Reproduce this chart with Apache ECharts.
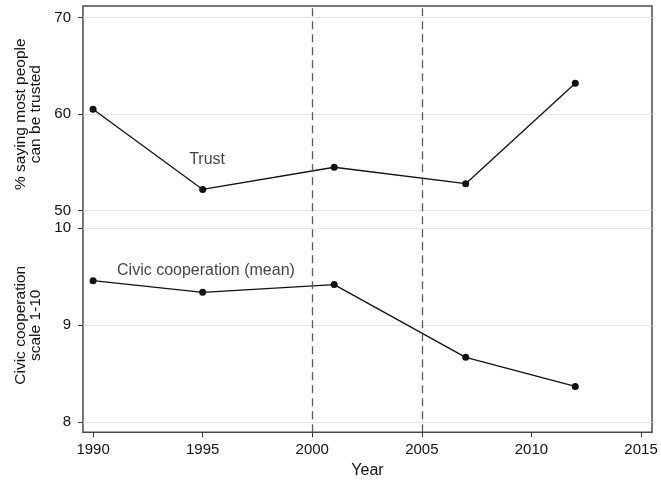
<!DOCTYPE html>
<html>
<head>
<meta charset="utf-8">
<script src="https://cdn.jsdelivr.net/npm/echarts@6/dist/echarts.min.js"></script>
<style>
  html, body { margin: 0; padding: 0; background: #fff; }
  #chart { width: 661px; height: 484px; }
</style>
</head>
<body>
<div id="chart"></div>
<script>
// Survey waves
const years = [1990, 1995, 2001, 2007, 2012];
// % saying most people can be trusted
const trust = [60.5, 52.2, 54.5, 52.8, 63.2];
// Civic cooperation scale 1-10 (mean)
const civic = [9.46, 9.34, 9.42, 8.67, 8.37];

// Axis ticks
const yearTicks = [1990, 1995, 2000, 2005, 2010, 2015];
const trustTicks = [50, 60, 70];
const civicTicks = [8, 9, 10];

// Vertical reference years (dashed)
const periodMarks = [2000, 2005];

// In-plot series captions [year, value]
const trustCaption = { text: 'Trust', at: [1995.2, 55.3] };
const civicCaption = { text: 'Civic cooperation (mean)', at: [1995.15, 9.565] };

// Shared horizontal range (slightly padded around the tick range)
const xMin = 1989.54, xMax = 2015.5;

const FONT = 'Liberation Sans, Arial, Helvetica, sans-serif';
const INK = '#111';
const TEXT = '#111';
const GRID_LINE = '#e4e4e4';

const chart = echarts.init(document.getElementById('chart'), null, { renderer: 'canvas' });

function yAxisFor(gridIndex, ticks, name) {
  return {
    gridIndex: gridIndex,
    type: 'value',
    min: ticks[0],
    max: ticks[ticks.length - 1],
    interval: ticks[1] - ticks[0],
    axisLine: { show: false },
    axisTick: { show: true, length: 5, lineStyle: { color: '#333', width: 1 } },
    axisLabel: { color: TEXT, fontSize: 15, fontFamily: FONT, margin: 12 },
    splitLine: { show: true, lineStyle: { color: GRID_LINE, width: 1 } },
    name: name,
    nameLocation: 'middle',
    nameRotate: 90,
    nameGap: 37,
    nameTextStyle: { color: TEXT, fontSize: 15.5, fontFamily: FONT, lineHeight: 15 }
  };
}

function caption(c, xi, yi) {
  return {
    type: 'scatter',
    xAxisIndex: xi, yAxisIndex: yi,
    silent: true,
    symbolSize: 0,
    data: [c.at],
    label: {
      show: true, position: 'inside', formatter: c.text,
      color: TEXT, fontSize: 16, fontFamily: FONT
    },
    z: 5
  };
}

const option = {
  animation: false,
  backgroundColor: '#fff',
  grid: [
    // upper panel: trust
    { left: 83, right: 9, top: 17.6, height: 193.1 },
    // lower panel: civic cooperation
    { left: 83, right: 9, top: 228.3, height: 194 },
    // outer frame covering both panels
    { left: 83, right: 9, top: 6, bottom: 51.7, show: true,
      borderColor: '#4a4a4a', borderWidth: 1.5, backgroundColor: 'transparent' }
  ],
  xAxis: [
    { gridIndex: 0, type: 'value', min: xMin, max: xMax, show: false },
    {
      gridIndex: 1, type: 'value', min: xMin, max: xMax,
      offset: 10,
      axisLine: { show: false },
      axisTick: { show: true, length: 5, customValues: yearTicks, lineStyle: { color: '#333', width: 1 } },
      axisLabel: {
        customValues: yearTicks, color: TEXT, fontSize: 15, fontFamily: FONT, margin: 10,
        formatter: function (v) { return String(v); }
      },
      splitLine: { show: false },
      name: 'Year',
      nameLocation: 'middle',
      nameGap: 30,
      nameTextStyle: { color: TEXT, fontSize: 16, fontFamily: FONT }
    },
    { gridIndex: 2, type: 'value', min: xMin, max: xMax, show: false }
  ],
  yAxis: [
    yAxisFor(0, trustTicks, '% saying most people\ncan be trusted'),
    yAxisFor(1, civicTicks, 'Civic cooperation\nscale 1-10'),
    { gridIndex: 2, type: 'value', min: 0, max: 1, show: false }
  ],
  series: [
    {
      type: 'line',
      xAxisIndex: 2, yAxisIndex: 2,
      silent: true,
      data: periodMarks.map(function (y) { return [y, 0]; }),
      showSymbol: false,
      lineStyle: { width: 0, opacity: 0 },
      markLine: {
        silent: true,
        symbol: ['none', 'none'],
        label: { show: false },
        lineStyle: { color: '#5a5a5a', width: 1.3, type: [8, 5] },
        data: periodMarks.map(function (y) { return { xAxis: y }; })
      }
    },
    {
      name: 'Trust',
      type: 'line',
      xAxisIndex: 0, yAxisIndex: 0,
      data: years.map(function (y, i) { return [y, trust[i]]; }),
      symbol: 'circle', symbolSize: 7,
      itemStyle: { color: INK },
      lineStyle: { color: INK, width: 1.3 },
      z: 4
    },
    {
      name: 'Civic cooperation (mean)',
      type: 'line',
      xAxisIndex: 1, yAxisIndex: 1,
      data: years.map(function (y, i) { return [y, civic[i]]; }),
      symbol: 'circle', symbolSize: 7,
      itemStyle: { color: INK },
      lineStyle: { color: INK, width: 1.3 },
      z: 4
    },
    caption(trustCaption, 0, 0),
    caption(civicCaption, 1, 1)
  ]
};

chart.setOption(option);
</script>
</body>
</html>
